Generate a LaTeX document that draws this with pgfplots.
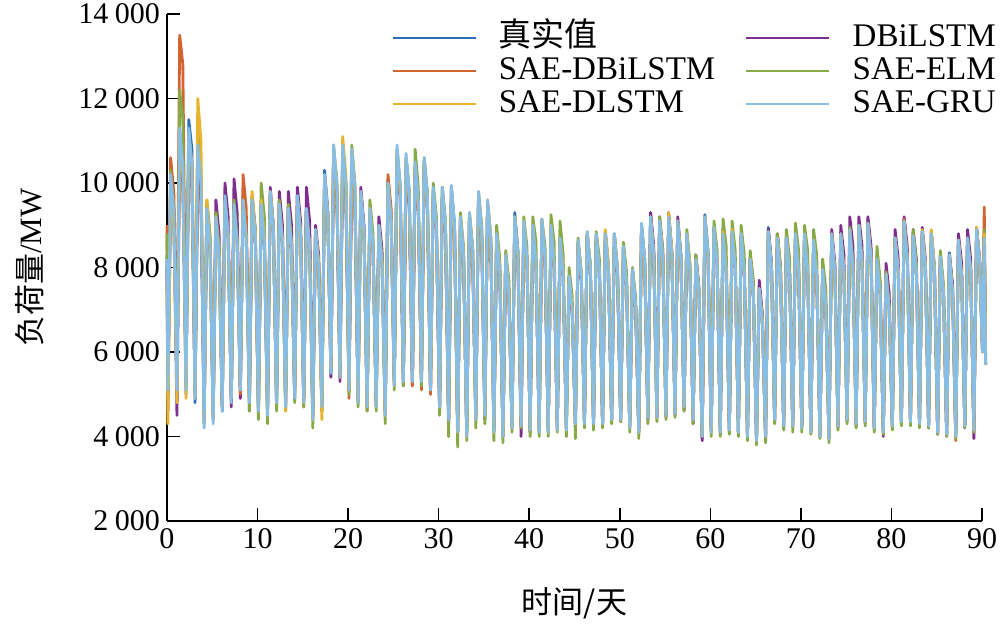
\documentclass[border=0pt]{standalone}
\usepackage{pgfplots}
\usepackage{pgfplotstable}
\pgfplotsset{compat=1.18}
\usepackage{fontspec}
\setmainfont{Liberation Serif}
\newfontfamily\cjk{Noto Sans CJK SC}
\definecolor{cTrue}{RGB}{47,109,181}
\definecolor{cDB}{RGB}{126,47,142}
\definecolor{cSDB}{RGB}{210,100,50}
\definecolor{cELM}{RGB}{135,170,70}
\definecolor{cDL}{RGB}{232,180,45}
\definecolor{cGRU}{RGB}{136,190,228}
\pgfplotstableread{
x tv db sdb elm dl gru
0 8300 8000 9000 8800 7600 8200
0.1 5000 4600 5300 4900 4300 5100
0.4 10000 9800 10600 10300 9600 10200
0.75 9200 9500 9800 9400 9000 9300
1.1 5200 4500 5600 5000 4800 5100
1.4 11200 10900 13500 12200 11000 11300
1.75 10300 10000 12800 11500 10200 10400
2.1 5000 5300 5400 5200 4900 5100
2.4 11500 10600 11000 10900 11200 11300
2.75 10800 9900 10500 10300 10400 10400
3.1 4800 5000 5100 5000 4900 4900
3.4 10700 10400 11000 11300 12000 10900
3.75 9900 9600 10000 10300 11000 10000
4.1 4300 4600 4400 4500 4300 4200
4.4 9300 9500 9200 9600 9600 9400
4.75 8500 8700 8400 8800 8600 8500
5.1 4400 4500 4500 4600 4400 4300
5.4 9100 9600 9300 9300 9200 9200
5.75 8300 8800 8400 8500 8300 8300
6.1 4600 4800 4700 4700 4700 4600
6.4 9700 10000 9600 9500 9600 9700
6.75 8800 9200 8700 8700 8800 8800
7.1 4800 4700 4900 5000 4900 4800
7.4 9500 10100 9500 9600 9400 9500
7.75 8600 9300 8600 8700 8500 8600
8.1 5100 4900 5000 5200 5100 5100
8.4 9600 9700 10200 9500 9600 9600
8.75 8700 8900 9400 8700 8700 8700
9.1 4800 4900 4600 4600 4800 4800
9.4 9500 9700 9500 9700 9800 9600
9.75 8700 8900 8600 8900 8800 8700
10.1 4600 4700 4500 4400 4600 4600
10.4 9400 9600 9500 10000 9600 9500
10.75 8500 8700 8600 9200 8700 8600
11.1 4500 4600 4600 4300 4500 4500
11.4 9700 9900 9700 9800 9800 9800
11.75 8900 9000 8800 9000 8900 8900
12.1 4700 4900 4800 4600 4800 4800
12.4 9400 9800 9500 9600 9500 9500
12.75 8600 9000 8600 8700 8600 8600
13.1 4700 4800 4800 4600 4600 4700
13.4 9300 9800 9300 9500 9400 9400
13.75 8500 9000 8400 8600 8500 8500
14.1 4900 5000 4900 4800 5000 4900
14.4 9700 9900 9700 9700 9600 9700
14.75 8800 9100 8800 8900 8700 8800
15.1 4800 4900 4700 4700 4800 4800
15.4 9500 9900 9400 9300 9300 9400
15.75 8600 9100 8500 8500 8500 8500
16.1 4400 4600 4500 4200 4400 4400
16.4 8800 9000 8900 8900 8900 8900
16.75 8000 8300 8100 8100 8100 8000
17.1 4700 4800 4600 4600 4400 4700
17.4 10300 10000 10100 9900 10200 10200
17.75 9400 9300 9300 9300 9300 9300
18.1 5500 5400 5600 5500 5600 5500
18.4 10800 10600 10700 10800 10900 10900
18.75 9900 9800 9900 10100 10000 10000
19.1 5400 5300 5400 5500 5400 5400
19.4 10900 10500 10700 10700 11100 10900
19.75 10000 9700 9800 10000 10200 10000
20.1 5100 5200 4900 5000 5100 5100
20.4 10700 10300 10500 10900 10800 10800
20.75 9800 9500 9600 10000 9900 9900
21.1 4800 4900 4900 4700 4800 4800
21.4 9800 9900 9800 9700 9700 9800
21.75 8900 9000 8900 8900 8800 8900
22.1 4700 4700 4600 4600 4700 4700
22.4 9300 9300 9300 9600 9400 9400
22.75 8500 8500 8500 8800 8500 8500
23.1 4700 4800 4800 4600 4700 4700
23.4 9000 9200 9000 9000 8900 9000
23.75 8100 8400 8200 8200 8100 8100
24.1 4500 4600 4500 4300 4500 4500
24.4 10100 9900 10200 10000 10000 10000
24.75 9200 9100 9400 9100 9100 9100
25.1 5200 5300 5300 5100 5200 5200
25.4 10800 10500 10600 10700 10800 10900
25.75 9900 9700 9700 9900 9900 10000
26.1 5300 5200 5300 5200 5300 5300
26.4 10600 10300 10400 10600 10600 10700
26.75 9800 9500 9500 9800 9700 9800
27.1 5300 5200 5200 5300 5300 5300
27.4 10400 10300 10200 10800 10400 10500
27.75 9600 9500 9300 9900 9500 9600
28.1 5300 5300 5100 5200 5300 5300
28.4 10500 10300 10400 10600 10500 10600
28.75 9700 9500 9500 9800 9600 9700
29.1 5100 5000 5000 5100 5100 5100
29.4 9800 9700 9800 10000 9800 9900
29.75 9000 8900 8900 9200 9000 9000
30.1 4700 4600 4700 4500 4700 4700
30.4 9900 9700 9700 9900 9800 9900
30.75 9000 8800 8800 9100 9000 9000
31.1 4400 4300 4400 4000 4400 4400
31.4 9900 9600 9700 9800 9800 9950
31.75 9000 8800 8900 9000 8900 9050
32.1 4100 4100 4200 3750 4100 4100
32.4 9100 9000 9000 9300 9200 9200
32.75 8300 8200 8200 8500 8300 8300
33.1 4000 4100 4100 3900 4000 4000
33.4 9200 9100 9200 9300 9300 9300
33.75 8400 8300 8400 8500 8400 8400
34.1 4400 4400 4500 4200 4400 4400
34.4 9700 9500 9600 9800 9700 9800
34.75 8900 8700 8800 9000 8900 8900
35.1 4500 4400 4600 4300 4500 4500
35.4 9500 9500 9400 9500 9600 9600
35.75 8700 8700 8600 8700 8800 8700
36.1 4100 4200 4200 3900 4100 4100
36.4 8700 8700 8800 9000 8800 8800
36.75 7900 7900 8000 8200 8000 7900
37.1 4000 4000 4100 3850 4000 4000
37.4 8300 8200 8300 8400 8300 8300
37.75 7400 7400 7500 7700 7500 7400
38.1 4200 4300 4300 4100 4200 4200
38.4 9300 9000 9100 9200 9200 9200
38.75 8400 8200 8300 8400 8300 8300
39.1 4300 4000 4300 4200 4250 4250
39.4 9000 9000 9000 9200 9100 9100
39.75 8200 8200 8200 8500 8200 8200
40.1 4150 4100 4200 4000 4150 4150
40.4 8900 8900 8900 9200 9000 9000
40.75 8100 8100 8100 8600 8100 8100
41.1 4100 4150 4200 4000 4100 4100
41.4 9100 9000 9000 9150 9100 9150
41.75 8200 8100 8100 8500 8200 8250
42.1 4100 4100 4200 4000 4100 4100
42.4 8900 8900 8900 9250 9000 9000
42.75 8100 8000 8000 8600 8100 8100
43.1 4150 4200 4200 4100 4150 4150
43.4 8700 8600 8700 9100 8700 8700
43.75 7800 7800 7800 8300 7900 7800
44.1 4150 4200 4200 4000 4150 4150
44.4 7800 7700 7800 8000 7800 7800
44.75 7000 6900 7000 7300 7000 7000
45.1 4300 4300 4400 3950 4300 4300
45.4 8600 8500 8600 8700 8650 8650
45.75 7700 7700 7800 7900 7800 7800
46.1 4300 4350 4300 4200 4300 4300
46.4 8800 8700 8800 8800 8850 8850
46.75 8000 7900 8000 8100 8000 8000
47.1 4300 4300 4350 4150 4300 4300
47.4 8800 8800 8750 8850 8800 8800
47.75 7900 8000 7900 8200 7900 7900
48.1 4300 4250 4300 4200 4300 4300
48.4 8750 8850 8850 8800 8900 8800
48.75 7900 8000 8000 8000 8100 7900
49.1 4400 4400 4400 4300 4400 4400
49.4 8800 8700 8750 8800 8800 8800
49.75 7900 7800 7900 8000 7900 7900
50.1 4400 4350 4450 4350 4400 4400
50.4 8450 8400 8500 8600 8500 8500
50.75 7600 7600 7700 7900 7600 7600
51.1 4200 4200 4250 4100 4200 4200
51.4 7950 7900 7950 8000 7950 7950
51.75 7100 7000 7100 7300 7100 7100
52.1 4100 4100 4150 3950 4100 4100
52.4 9000 8900 8950 9000 9000 9050
52.75 8200 8100 8100 8200 8100 8200
53.1 4450 4400 4500 4300 4450 4450
53.4 9300 9300 9200 9100 9200 9200
53.75 8400 8500 8300 8300 8300 8300
54.1 4450 4450 4450 4350 4450 4450
54.4 9100 9200 9100 9200 9100 9100
54.75 8200 8400 8200 8400 8200 8200
55.1 4500 4450 4500 4400 4500 4500
55.4 9200 9300 9200 9200 9300 9200
55.75 8300 8400 8300 8300 8400 8300
56.1 4550 4500 4600 4450 4550 4550
56.4 9100 9200 9100 9100 9100 9100
56.75 8200 8300 8200 8300 8200 8200
57.1 4700 4600 4650 4600 4700 4700
57.4 8700 8800 8700 8900 8800 8800
57.75 7900 8000 7900 8100 8000 7900
58.1 4400 4300 4400 4300 4400 4400
58.4 8200 8300 8200 8300 8200 8200
58.75 7400 7500 7400 7500 7400 7400
59.1 3950 3900 4000 4050 4000 4000
59.4 9250 9100 9100 9200 9200 9200
59.75 8400 8200 8200 8300 8300 8300
60.1 4100 4100 4150 4000 4100 4100
60.4 8900 8950 8900 9100 8950 8950
60.75 8100 8100 8100 8400 8100 8100
61.1 4100 4050 4100 4000 4100 4100
61.4 8800 8900 8800 9150 8850 8800
61.75 7900 8100 7900 8500 8000 7900
62.1 4150 4100 4150 4050 4150 4150
62.4 8800 8800 8800 9100 8900 8850
62.75 8000 8000 8000 8400 8000 8000
63.1 4100 4100 4150 4000 4100 4100
63.4 8750 8700 8750 9000 8800 8800
63.75 7900 7900 7900 8300 7900 7900
64.1 4000 4000 4050 3900 4000 4000
64.4 8200 8250 8200 8400 8200 8200
64.75 7400 7400 7400 7700 7400 7400
65.1 3900 3900 3950 3800 3900 3900
65.4 7500 7700 7500 7500 7500 7500
65.75 6700 6900 6700 6800 6700 6700
66.1 4000 3950 4000 3850 4000 4000
66.4 8950 8900 8850 8800 8850 8850
66.75 8100 8100 8000 8000 8000 8000
67.1 4400 4350 4400 4300 4400 4400
67.4 8700 8800 8800 8800 8700 8700
67.75 7800 8000 8000 8000 7900 7800
68.1 4250 4200 4250 4150 4250 4250
68.4 8700 8750 8700 8900 8700 8700
68.75 7900 7900 7800 8200 7800 7800
69.1 4250 4250 4250 4100 4250 4250
69.4 8750 8800 8750 9050 8800 8800
69.75 7900 7900 7900 8400 7900 7900
70.1 4200 4200 4250 4100 4200 4200
70.4 8850 8750 8800 9000 8800 8800
70.75 8000 7900 7900 8400 7900 7900
71.1 4100 4100 4150 4050 4100 4100
71.4 8600 8600 8650 8900 8650 8650
71.75 7800 7800 7800 8300 7800 7800
72.1 4000 4000 4050 3950 4000 4000
72.4 7900 7950 7950 8200 7950 7950
72.75 7100 7200 7100 7500 7100 7100
73.1 3950 3950 4000 3850 3950 3950
73.4 8800 8900 8800 8700 8800 8800
73.75 8000 8100 7900 7900 7900 7900
74.1 4250 4200 4250 4150 4250 4250
74.4 8750 9000 8800 8750 8800 8800
74.75 7900 8300 7900 7900 7900 7900
75.1 4400 4350 4400 4300 4400 4400
75.4 8900 9200 8900 8950 8900 8900
75.75 8000 8500 8000 8100 8000 8000
76.1 4300 4250 4300 4200 4300 4300
76.4 9000 9200 9000 9000 9000 9000
76.75 8100 8500 8100 8200 8100 8100
77.1 4350 4300 4350 4250 4350 4350
77.4 9050 9200 9050 8900 9050 9050
77.75 8200 8500 8200 8100 8200 8200
78.1 4200 4150 4200 4100 4200 4200
78.4 8200 8300 8200 8500 8200 8200
78.75 7400 7600 7400 7700 7400 7400
79.1 4100 4000 4100 4050 4100 4100
79.4 7850 8100 7850 7900 7850 7850
79.75 7000 7400 7000 7100 7000 7000
80.1 4250 4200 4250 4150 4250 4250
80.4 8700 8900 8700 8700 8700 8700
80.75 7900 8200 7900 7900 7900 7900
81.1 4350 4300 4350 4250 4350 4350
81.4 9150 9200 9150 9000 9100 9100
81.75 8300 8500 8300 8200 8200 8200
82.1 4350 4300 4350 4250 4350 4350
82.4 8750 8900 8750 8900 8750 8750
82.75 7900 8200 7900 8100 7900 7900
83.1 4300 4250 4300 4200 4300 4300
83.4 8850 8950 8850 8800 8900 8850
83.75 8000 8200 8000 8000 8100 8000
84.1 4250 4200 4250 4200 4250 4250
84.4 8800 8800 8800 8850 8900 8800
84.75 7900 8000 7900 8000 8000 7900
85.1 4100 4050 4100 4050 4100 4100
85.4 8300 8250 8250 8400 8250 8250
85.75 7400 7400 7400 7600 7400 7400
86.1 4050 4000 4050 4000 4050 4050
86.4 8350 8300 8300 8200 8300 8300
86.75 7500 7600 7400 7400 7400 7400
87.1 4000 4050 3900 3950 4000 4000
87.4 8650 8800 8650 8600 8650 8650
87.75 7800 8100 7800 7800 7800 7800
88.1 4250 4200 4250 4200 4250 4250
88.4 8700 8900 8700 8700 8700 8700
88.75 7900 8200 7900 7900 7900 7900
89.1 4150 3950 4150 4100 4150 4150
89.4 8900 8950 8900 8900 8950 8900
89.75 8100 8200 8100 8100 8100 8100
90.05 6000 6100 6200 6000 6000 6000
90.25 8700 8900 9430 8900 8800 8700
90.4 5700 5800 5900 5700 5700 5700
}\loaddata
\begin{document}
\begin{tikzpicture}
\useasboundingbox (-83.5pt,-52pt) rectangle (416.5pt,260.5pt);
\begin{axis}[
  scale only axis, width=407.5pt, height=253.5pt,
  at={(0,0)}, anchor=south west,
  xmin=0, xmax=90, ymin=2000, ymax=14000,
  clip=false,
  axis lines*=left,
  axis line style={line width=0.8pt},
  tick align=inside,
  major tick length=6.5pt,
  tick style={line width=0.8pt, black},
  xtick={0,10,...,90},
  ytick={2000,4000,...,14000},
  scaled y ticks=false,
  /pgf/number format/.cd, 1000 sep={\hspace{0.22em}}, assume math mode=true,
  /pgfplots/.cd,
  ticklabel style={font=\fontsize{15}{17}\selectfont},
  every axis y label/.style={at={(axis description cs:-0.168,0.5)}, rotate=90, anchor=center},
  every axis x label/.style={at={(axis description cs:0.5,-0.162)}, anchor=center},
  ylabel={\fontsize{15.5}{18}\selectfont{\cjk 负荷量}/MW},
  xlabel={\fontsize{15.5}{18}\selectfont{\cjk 时间/天}},
  legend columns=2,
  legend cell align=left,
  legend style={at={(axis description cs:0.275,0.983)}, anchor=north west, draw=none, fill=none,
     font=\fontsize{16.5}{18}\selectfont, inner sep=0pt, row sep=2pt,
     nodes={inner xsep=2pt, inner ysep=0.5pt, text height=11pt, text depth=2.5pt},
     /tikz/every even column/.append style={column sep=13pt}},
  legend image code/.code={\draw[#1, line width=1pt] (0pt,0pt) -- (41.5pt,0pt); \path (50.5pt,0pt);},
  every axis plot/.append style={line width=1.4pt, line join=round},
]
\addplot[cTrue] table[x=x,y=tv]{\loaddata};
\addlegendentry{\cjk 真实值}
\addplot[cDB] table[x=x,y=db]{\loaddata};
\addlegendentry{DBiLSTM}
\addplot[cSDB] table[x=x,y=sdb]{\loaddata};
\addlegendentry{SAE-DBiLSTM}
\addplot[cELM] table[x=x,y=elm]{\loaddata};
\addlegendentry{SAE-ELM}
\addplot[cDL] table[x=x,y=dl]{\loaddata};
\addlegendentry{SAE-DLSTM}
\addplot[cGRU] table[x=x,y=gru]{\loaddata};
\addlegendentry{SAE-GRU}
\end{axis}
\end{tikzpicture}
\end{document}
